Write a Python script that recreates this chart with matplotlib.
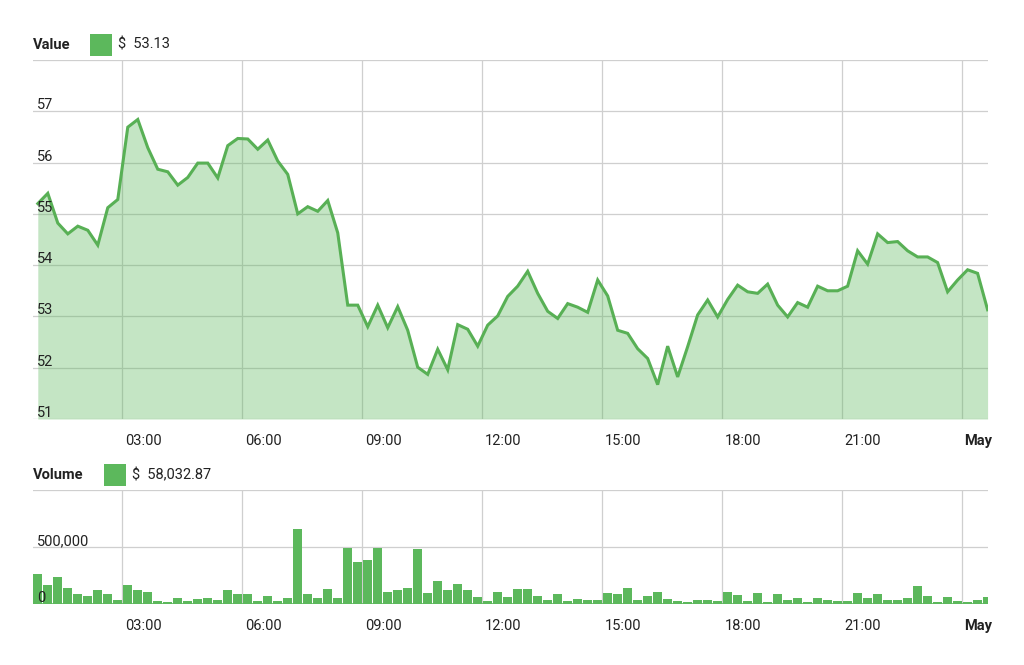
import numpy as np
import matplotlib
matplotlib.use("Agg")
import matplotlib.pyplot as plt
import matplotlib.transforms as mtransforms
from matplotlib.patches import Rectangle

plt.rcParams['font.family'] = ['Roboto', 'DejaVu Sans']

# ---- data (hours since midnight, 15-minute steps) ----
times = np.arange(96) * 0.25 + 0.9

price = [55.20, 55.40, 54.82, 54.61, 54.76, 54.68, 54.39, 55.12, 55.28, 56.69,
         56.84, 56.29, 55.87, 55.82, 55.56, 55.71, 55.99, 55.99, 55.70, 56.33,
         56.47, 56.46, 56.26, 56.44, 56.03, 55.77, 55.00, 55.14, 55.05, 55.26,
         54.63, 53.22, 53.22, 52.80, 53.22, 52.78, 53.19, 52.73, 52.01, 51.87,
         52.36, 51.96, 52.84, 52.75, 52.42, 52.83, 53.01, 53.39, 53.59, 53.88,
         53.45, 53.10, 52.96, 53.25, 53.18, 53.08, 53.71, 53.40, 52.73, 52.67,
         52.37, 52.18, 51.67, 52.42, 51.82, 52.41, 53.03, 53.32, 52.99, 53.33,
         53.61, 53.48, 53.45, 53.63, 53.22, 52.99, 53.27, 53.18, 53.59, 53.50,
         53.50, 53.59, 54.28, 54.02, 54.61, 54.44, 54.46, 54.28, 54.16, 54.16,
         54.05, 53.48, 53.71, 53.91, 53.84, 53.13]

volume = [263e3, 170e3, 237e3, 143e3, 85e3, 73e3, 123e3, 88e3, 38e3, 167e3,
          120e3, 108e3, 29e3, 18e3, 50e3, 29e3, 41e3, 50e3, 38e3, 120e3,
          85e3, 85e3, 29e3, 73e3, 29e3, 50e3, 658e3, 85e3, 50e3, 132e3,
          50e3, 494e3, 365e3, 389e3, 494e3, 108e3, 120e3, 143e3, 482e3, 96e3,
          202e3, 120e3, 178e3, 120e3, 61e3, 29e3, 108e3, 61e3, 132e3, 132e3,
          73e3, 38e3, 88e3, 23e3, 47e3, 38e3, 38e3, 96e3, 88e3, 143e3,
          38e3, 67e3, 108e3, 47e3, 23e3, 15e3, 38e3, 38e3, 29e3, 108e3,
          76e3, 26e3, 96e3, 15e3, 85e3, 38e3, 50e3, 15e3, 50e3, 38e3,
          29e3, 29e3, 96e3, 50e3, 85e3, 38e3, 38e3, 50e3, 155e3, 73e3,
          15e3, 61e3, 26e3, 15e3, 38e3, 61e3]

xtick_pos = [3, 6, 9, 12, 15, 18, 21, 24]
xtick_labels = ["03:00", "06:00", "09:00", "12:00", "15:00", "18:00", "21:00", "May"]
price_ticks = [51, 52, 53, 54, 55, 56, 57]
price_grid = [51, 52, 53, 54, 55, 56, 57, 58]
vol_ticks = [0, 500000]
vol_tick_labels = ["0", "500,000"]
vol_grid = [0, 500000, 1000000]

value_label = "Value"
value_text = "$  53.13"
volume_label = "Volume"
volume_text = "$  58,032.87"

# ---- style ----
GREEN = '#5cb85c'
LINE = '#58b055'
GRID = '#cfcfcf'
TEXT = '#222222'
FS = 10.5

W, H = 1024, 665
fig = plt.figure(figsize=(W / 100, H / 100), dpi=100)

def ax_rect(l, t, r, b):
    return [l / W, 1 - b / H, (r - l) / W, (b - t) / H]

ax1 = fig.add_axes(ax_rect(33, 60, 988, 419))
ax2 = fig.add_axes(ax_rect(33, 490, 988, 604))

xlim = (0.78, 24.66)

for ax in (ax1, ax2):
    ax.set_xlim(*xlim)
    for s in ax.spines.values():
        s.set_visible(False)
    ax.tick_params(length=0)
    ax.set_yticks([])
    for xv in xtick_pos:
        ax.axvline(xv, color=GRID, lw=0.9, zorder=0)

# top panel
ax1.set_ylim(51, 58)
for yv in price_grid:
    ax1.axhline(yv, color=GRID, lw=0.9, zorder=0)
ax1.fill_between(times, price, 51, color=GREEN, alpha=0.36, lw=0, zorder=1)
ax1.plot(times, price, color=LINE, lw=2.2, zorder=3, solid_joinstyle='miter')

trans1 = mtransforms.blended_transform_factory(ax1.transAxes, ax1.transData)
off = mtransforms.ScaledTranslation(4 / 100, 2 / 100, fig.dpi_scale_trans)
for yv in price_ticks:
    ax1.text(0, yv, str(yv), transform=trans1 + off, ha='left', va='baseline',
             fontsize=FS, color=TEXT, zorder=4)

# bottom panel
ax2.set_ylim(0, 1000000)
for yv in vol_grid:
    ax2.axhline(yv, color=GRID, lw=0.9, zorder=0)
ax2.bar(times, volume, width=0.235, color=GREEN, lw=0, zorder=2)
ax2.axhline(0, color=GREEN, lw=1.2, zorder=2)
trans2 = mtransforms.blended_transform_factory(ax2.transAxes, ax2.transData)
for yv, lab in zip(vol_ticks, vol_tick_labels):
    ax2.text(0, yv, lab, transform=trans2 + off, ha='left', va='baseline',
             fontsize=FS, color=TEXT, zorder=4)

# x tick labels (left aligned next to gridline)
xoff = mtransforms.ScaledTranslation(3 / 100, 0, fig.dpi_scale_trans)
for ax in (ax1, ax2):
    ax.set_xticks(xtick_pos)
    ax.set_xticklabels(xtick_labels, fontsize=FS, color=TEXT)
    ax.tick_params(axis='x', pad=11)
    for lbl in ax.get_xticklabels():
        lbl.set_ha('left')
        lbl.set_transform(lbl.get_transform() + xoff)
    ax.get_xticklabels()[-1].set_fontweight('bold')

# legends
def legend(y_center, label, sq_left, text, text_left):
    fig.text(33 / W, 1 - y_center / H, label, fontsize=FS, fontweight='bold',
             color=TEXT, ha='left', va='center')
    fig.patches.append(Rectangle((sq_left / W, 1 - (y_center + 11) / H), 22 / W, 22 / H,
                                 transform=fig.transFigure, color=GREEN, lw=0))
    fig.text(text_left / W, 1 - y_center / H, text, fontsize=FS,
             color=TEXT, ha='left', va='center')

legend(45, value_label, 90, value_text, 118)
legend(475, volume_label, 104, volume_text, 132)

fig.savefig("out.png", dpi=100, facecolor='white')
